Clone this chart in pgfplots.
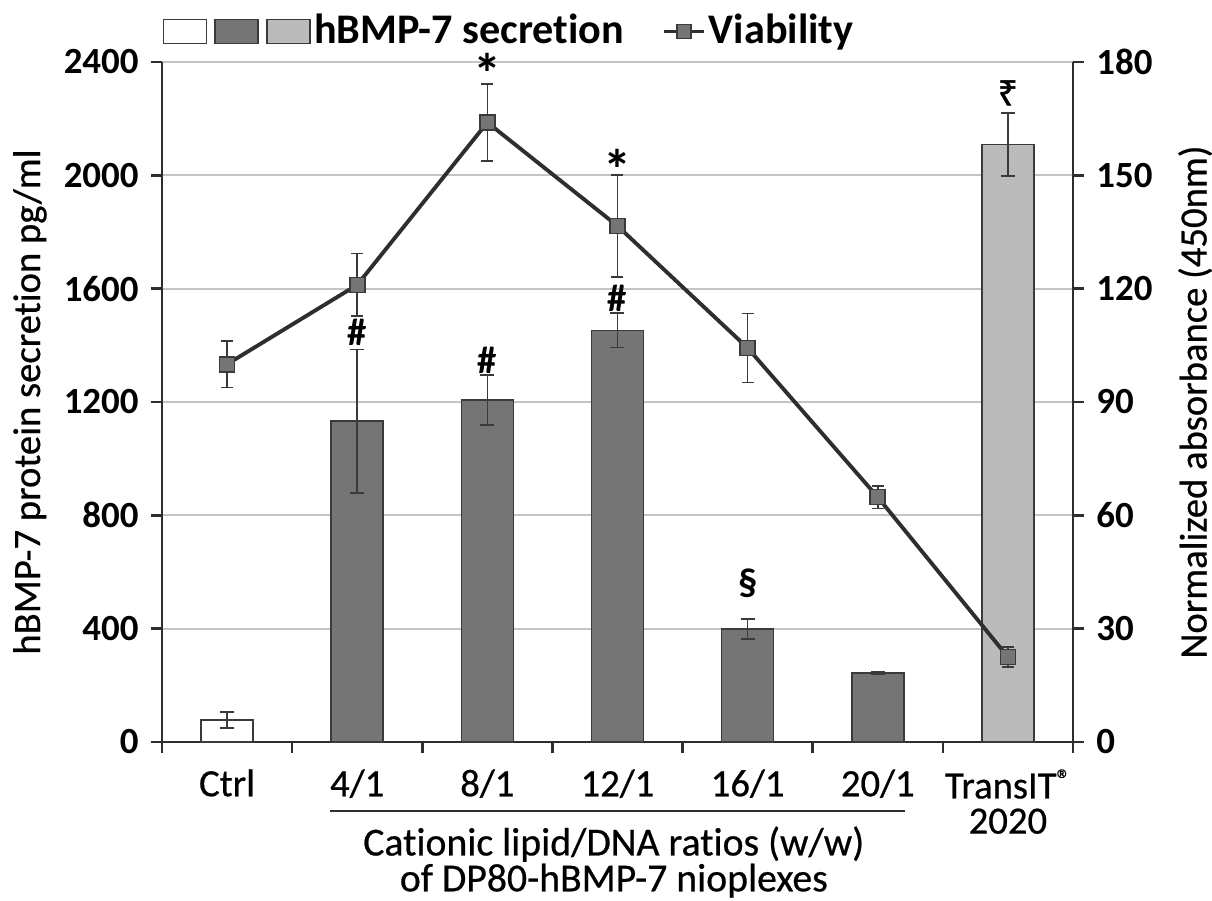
\documentclass[border=0pt]{standalone}
\usepackage{fontspec}
\setmainfont{Carlito}[Ligatures=NoCommon]
\newfontfamily\semib{Carlito}[Ligatures=NoCommon, FakeBold=0.6]
\newfontfamily\symfont{Noto Sans}[FakeBold=1.5]
\usepackage{pgfplots}
\pgfplotsset{compat=1.18}
\definecolor{barDark}{HTML}{757575}
\definecolor{barLight}{HTML}{BBBBBB}
\definecolor{edge}{HTML}{3A3A3A}
\definecolor{lineC}{HTML}{2E2E2E}
\definecolor{gridC}{HTML}{C4C4C4}
\newcommand{\fs}{\fontsize{10.5}{10}\selectfont}
\newcommand{\fl}{\semib\fontsize{11}{10}\selectfont}

\pgfplotsset{
  common/.style={
    scale only axis, width=9.11cm, height=6.80cm,
    at={(0,0)}, anchor=south west,
    xmin=-0.5, xmax=6.5,
    tick align=outside, major tick length=0.11cm,
    axis line style={draw=lineC, line width=0.7pt},
    every tick/.style={draw=lineC, line width=0.7pt},
    /pgf/number format/assume math mode=true,
    /pgf/number format/set thousands separator={},
    yticklabel style={font=\fs\bfseries},
    clip=false,
  },
  barerr/.style={error bars/.cd, y dir=both, y explicit,
    error bar style={draw=edge, line width=0.45pt},
    error mark=-, error mark options={rotate=90, draw=edge, mark size=0.07cm, line width=0.45pt}},
  boxlegend/.style={legend image code/.code={\draw[##1] (0cm,-0.12cm) rectangle (0.43cm,0.12cm);}},
  vialegend/.style={legend image code/.code={\draw[mark repeat=2,mark phase=2,##1] plot coordinates {(0cm,0cm) (0.2cm,0cm) (0.4cm,0cm)};}},
}

\begin{document}
\begin{tikzpicture}
\begin{axis}[common,
  ymin=0, ymax=2400, ytick={0,400,...,2400},
  axis y line*=left, axis x line*=bottom,
  ymajorgrids, grid style={draw=gridC, line width=0.6pt},
  xtick={-0.5,0.5,...,6.5}, xticklabels={,,,,,,,},
  extra x ticks={0,1,2,3,4,5,6},
  extra x tick labels={Ctrl,4/1,8/1,12/1,16/1,20/1,{TransIT\raisebox{0.25em}{\fontsize{8}{8}\selectfont ®}\\2020}},
  extra x tick style={major tick length=0pt,
    xticklabel style={font=\fl, align=center, anchor=north, yshift=-0.15cm}},
  ylabel={hBMP-7 protein secretion pg/ml},
  ylabel style={font=\fl, at={(axis description cs:-0.145,0.5)}, anchor=center},
  xlabel={Cationic lipid/DNA ratios (w/w)\\of DP80-hBMP-7 nioplexes},
  xlabel style={font=\semib\fontsize{11.3}{10.2}\selectfont, align=center, at={(rel axis cs:0.496,0)}, anchor=north, yshift=-0.72cm},
  legend columns=4,
  legend style={at={(rel axis cs:0,1)}, anchor=south west, draw=none, fill=none,
    inner sep=0pt, yshift=0.09cm, nodes={inner sep=1pt, font=\fontsize{12}{12}\selectfont\bfseries},
    /tikz/every even column/.append style={column sep=0pt}},
]
\addplot[ybar, bar width=0.52cm, fill=white, draw=edge, line width=0.45pt, boxlegend, barerr]
  coordinates {(0,78) +- (0,28)};
\addlegendentry{}
\addplot[ybar, bar width=0.52cm, fill=barDark, draw=edge, line width=0.45pt, boxlegend, barerr]
  coordinates {(1,1132) +- (0,253) (2,1207) +- (0,88) (3,1453) +- (0,61) (4,399) +- (0,35) (5,244) +- (0,3)};
\addlegendentry{}
\addplot[ybar, bar width=0.52cm, fill=barLight, draw=edge, line width=0.45pt, boxlegend, barerr]
  coordinates {(6,2109) +- (0,112)};
\addlegendentry{hBMP-7 secretion\rule{10pt}{0pt}}
\addlegendimage{draw=lineC, line width=0.8pt, mark=square*, mark size=0.07cm,
  mark options={fill=barDark, draw=edge, line width=0.45pt}, vialegend}
\addlegendentry{Viability}

\draw[draw=lineC, line width=0.6pt] ([yshift=-0.69cm]axis cs:0.79,0) -- ([yshift=-0.69cm]axis cs:5.21,0);
\node[font=\fontsize{11}{11}\selectfont\bfseries] at (axis cs:1,1447) {\#};
\node[font=\fontsize{11}{11}\selectfont\bfseries] at (axis cs:2,1348) {\#};
\node[font=\fontsize{11}{11}\selectfont\bfseries] at (axis cs:3,1567) {\#};
\node[font=\fontsize{11}{11}\selectfont\bfseries] at (axis cs:4,561) {§};
\node[font=\fontsize{16}{16}\selectfont\bfseries] at (axis cs:2,2360) {*};
\node[font=\fontsize{16}{16}\selectfont\bfseries] at (axis cs:3,2020) {*};
\node[font=\symfont\fontsize{10}{10}\selectfont] at (axis cs:6,2291) {₹};
\end{axis}

\begin{axis}[common,
  ymin=0, ymax=180, ytick={0,30,...,180},
  axis y line*=right, axis x line=none,
  ylabel={Normalized absorbance (450nm)},
  ylabel style={font=\fl, at={(axis description cs:1.134,0.5)}, anchor=center},
]
\addplot[draw=lineC, line width=1.1pt, mark=square*, mark size=0.075cm,
  mark options={fill=barDark, draw=edge, line width=0.45pt},
  error bars/.cd, y dir=both, y explicit,
  error bar style={draw=edge, line width=0.45pt},
  error mark=-, error mark options={rotate=90, draw=edge, mark size=0.06cm, line width=0.45pt}]
  coordinates {(0,100) +- (0,6.2) (1,121) +- (0,8.3) (2,164) +- (0,10.2) (3,136.6) +- (0,13.5)
    (4,104.3) +- (0,9.1) (5,64.8) +- (0,3) (6,22.5) +- (0,2.7)};
\end{axis}
\pgfresetboundingbox
\path[use as bounding box] (-1.62cm,-1.59cm) rectangle (10.50cm,7.42cm);
\end{tikzpicture}
\end{document}
